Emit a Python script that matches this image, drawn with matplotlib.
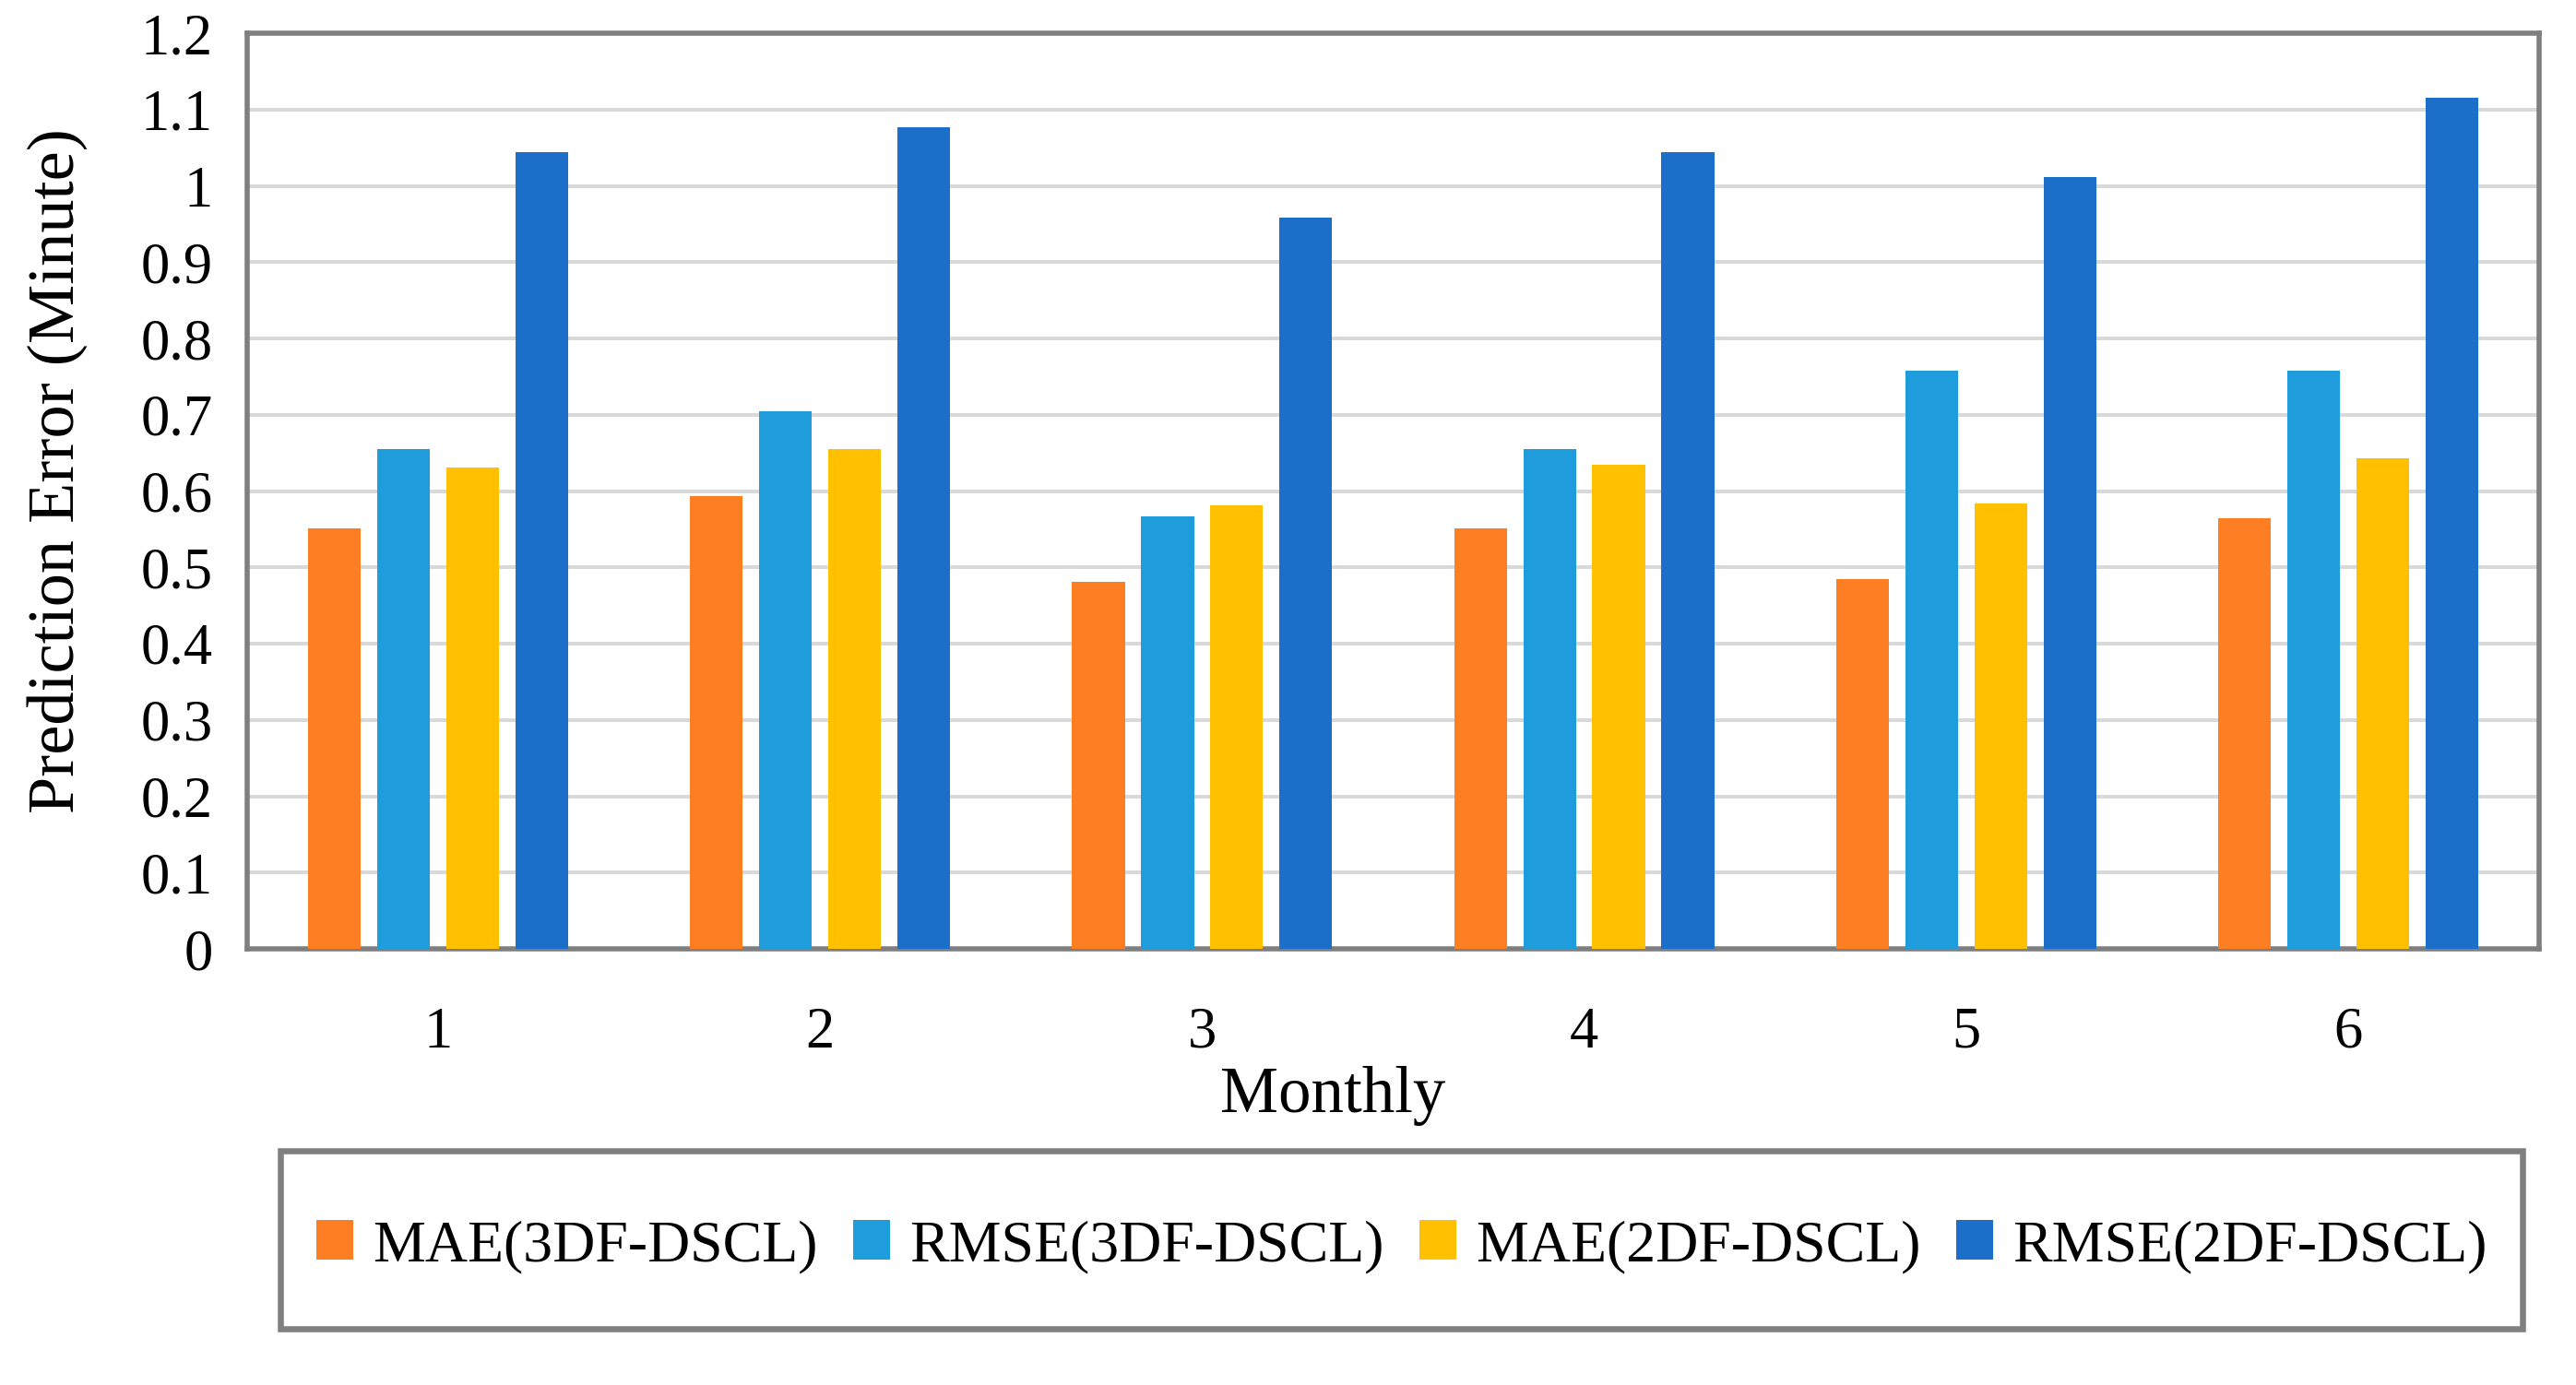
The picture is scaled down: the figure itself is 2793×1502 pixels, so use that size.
import matplotlib
matplotlib.use("Agg")
import matplotlib.pyplot as plt
from matplotlib.patches import Rectangle
import numpy as np

plt.rcParams['font.family'] = ['Liberation Serif', 'DejaVu Serif']

# data
months = [1, 2, 3, 4, 5, 6]
mae_3df = [0.551, 0.593, 0.481, 0.551, 0.485, 0.564]
rmse_3df = [0.655, 0.704, 0.567, 0.655, 0.758, 0.758]
mae_2df = [0.631, 0.655, 0.581, 0.635, 0.584, 0.643]
rmse_2df = [1.044, 1.077, 0.958, 1.044, 1.011, 1.115]

series_names = ['MAE(3DF-DSCL)', 'RMSE(3DF-DSCL)', 'MAE(2DF-DSCL)', 'RMSE(2DF-DSCL)']
series_colors = ['#FD7E23', '#1E9CDC', '#FFC000', '#1C6FC8']
series_values = [mae_3df, rmse_3df, mae_2df, rmse_2df]
y_ticks = [0, 0.1, 0.2, 0.3, 0.4, 0.5, 0.6, 0.7, 0.8, 0.9, 1, 1.1, 1.2]
y_tick_labels = ['0', '0.1', '0.2', '0.3', '0.4', '0.5', '0.6', '0.7', '0.8', '0.9', '1', '1.1', '1.2']

W, H = 2793, 1502
fig = plt.figure(figsize=(W / 100, H / 100), dpi=100)
ax = fig.add_axes([268 / W, 1 - 1029 / H, (2753 - 268) / W, (1029 - 36) / H])

x = np.array(months, dtype=float)
step = 0.181
width = 0.138
for i, (name, vals, col) in enumerate(zip(series_names, series_values, series_colors)):
    ax.bar(x + (i - 1.5) * step, vals, width=width, color=col, label=name, zorder=3)

ax.set_xlim(0.5, 6.5)
ax.set_ylim(0, 1.2)
ax.set_yticks(y_ticks)
ax.set_yticklabels(y_tick_labels)
ax.set_xticks(months)
ax.set_xticklabels([str(m) for m in months])

ax.yaxis.grid(True, color='#d9d9d9', linewidth=2.9, zorder=0)
ax.set_axisbelow(True)
for sp in ax.spines.values():
    sp.set_color('#7f7f7f')
    sp.set_linewidth(4)

ax.tick_params(axis='y', length=0, pad=27, labelsize=45)
ax.tick_params(axis='x', length=0, pad=45, labelsize=45)

ax.set_xlabel('Monthly', fontsize=51)
ax.xaxis.set_label_coords(0.4736, -0.128)
ax.set_ylabel('Prediction Error (Minute)', fontsize=52)
ax.yaxis.set_label_coords(-0.0696, 0.522)

# legend box below the plot
fig.patches.append(Rectangle((304 / W, 1 - 1441 / H), (2735 - 304) / W, (1441 - 1248) / H,
                             transform=fig.transFigure, fill=False,
                             edgecolor='#7f7f7f', linewidth=4.7))
fig.legend(loc='center', bbox_to_anchor=(1520 / W, 1 - 1352 / H), ncol=4,
           frameon=False, fontsize=46, handlelength=0.63, handleheight=0.64,
           handletextpad=0.33, columnspacing=0.6, borderpad=0)

fig.savefig('out.png', dpi=100)
